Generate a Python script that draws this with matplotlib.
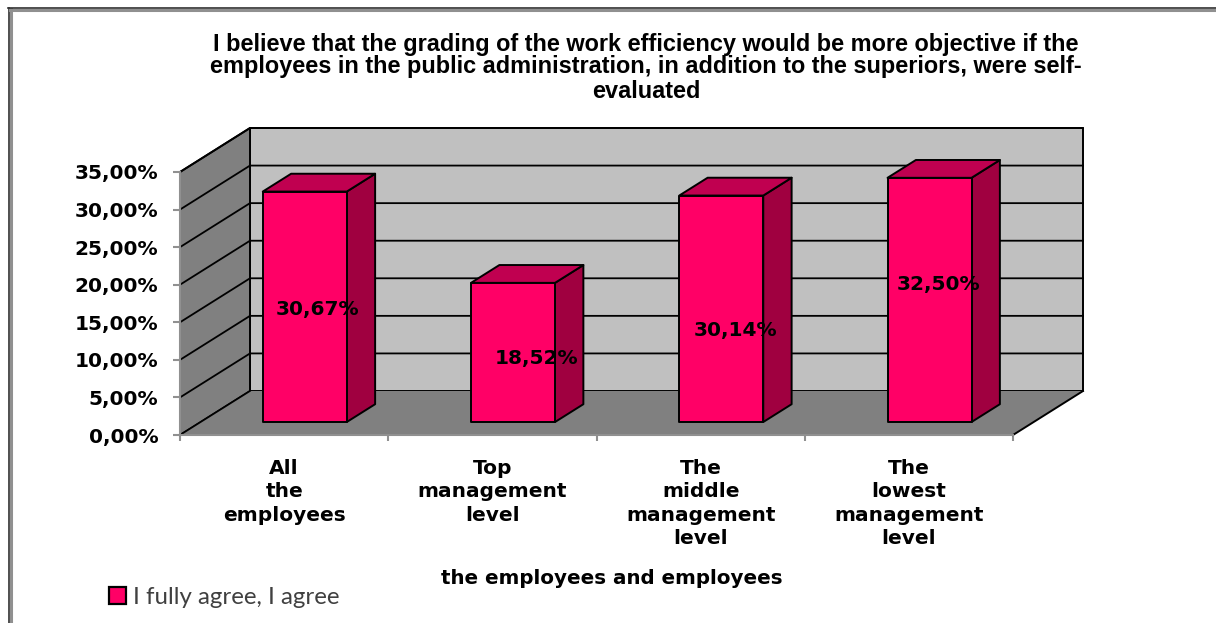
import matplotlib
matplotlib.use("Agg")
import matplotlib.pyplot as plt
from matplotlib.lines import Line2D
from matplotlib.patches import Patch

categories = ["All\nthe\nemployees", "Top\nmanagement\nlevel",
              "The\nmiddle\nmanagement\nlevel", "The\nlowest\nmanagement\nlevel"]
values = [30.67, 18.52, 30.14, 32.50]
value_labels = ["30,67%", "18,52%", "30,14%", "32,50%"]
y_ticks = [0, 5, 10, 15, 20, 25, 30, 35]
y_tick_labels = ["0,00%", "5,00%", "10,00%", "15,00%", "20,00%", "25,00%", "30,00%", "35,00%"]
title_lines = ["I believe that the grading of the work efficiency would be more objective if the",
               "employees in the public administration, in addition to the superiors, were self-",
               "evaluated"]
series_name = "I fully agree, I agree"
x_title = "the employees and employees"

W, H = 1216, 623
BOLD = "Liberation Sans"

# fake 3d: depth 0..1 shifts a point up and right on the front plane axes
DEPTH_X = 70 / 208.25
DEPTH_Y = 44 / 7.514
BAR_W = 84 / 208.25
BAR_D0, BAR_D1 = 0.295, 0.70
# the labels in the original were moved by hand
label_dx = [0.06, 0.115, 0.07, 0.045]
label_dy = [-0.4, -0.8, -2.9, 2.0]


def pt(x, y, d=0.0):
    return x + d * DEPTH_X, y + d * DEPTH_Y


def poly(ax, pts, color, z, lw=1.4):
    xs = [p[0] for p in pts]
    ys = [p[1] for p in pts]
    ax.fill(xs, ys, facecolor=color, edgecolor="black", linewidth=lw, zorder=z,
            clip_on=False, joinstyle="round")


fig = plt.figure(figsize=(W / 100, H / 100), dpi=100)
ax = fig.add_axes([180 / W, 1 - 435 / H, 833 / W, 263 / H])
ax.set_xlim(0, 4)
ax.set_ylim(0, 35)
ax.patch.set_alpha(0)

# walls and floor
poly(ax, [pt(0, 0, 1), pt(4, 0, 1), pt(4, 35, 1), pt(0, 35, 1)], "#c0c0c0", 1)
poly(ax, [pt(0, 0), pt(0, 0, 1), pt(0, 35, 1), pt(0, 35)], "#808080", 1)
ax.fill(*zip(pt(0, 0), pt(4, 0), pt(4, 0, 1), pt(0, 0, 1)), facecolor="#808080",
        edgecolor="none", zorder=2, clip_on=False)
ax.plot(*zip(pt(4, 0), pt(4, 0, 1)), color="black", lw=1.4, zorder=2, clip_on=False)
ax.plot(*zip(pt(0, 0), pt(0, 0, 1)), color="black", lw=1.2, zorder=2, clip_on=False)

for t in y_ticks[1:]:
    ax.plot(*zip(pt(0, t), pt(0, t, 1), pt(4, t, 1)), color="black", lw=1.3, zorder=1.5,
            clip_on=False)

# bars
for i, v in enumerate(values):
    x0 = i + 0.5 - BAR_W / 2
    x1 = i + 0.5 + BAR_W / 2
    poly(ax, [pt(x1, 0, BAR_D0), pt(x1, 0, BAR_D1), pt(x1, v, BAR_D1), pt(x1, v, BAR_D0)], "#a00040", 3)
    poly(ax, [pt(x0, v, BAR_D0), pt(x1, v, BAR_D0), pt(x1, v, BAR_D1), pt(x0, v, BAR_D1)], "#c00050", 3)
    poly(ax, [pt(x0, 0, BAR_D0), pt(x1, 0, BAR_D0), pt(x1, v, BAR_D0), pt(x0, v, BAR_D0)], "#ff0066", 4)
    lx, ly = pt(i + 0.5 + label_dx[i], v / 2 + label_dy[i], BAR_D0)
    ax.text(lx, ly, value_labels[i], ha="center", va="center", fontsize=14.5,
            fontweight="bold", family="DejaVu Sans", color="black", zorder=5)

# axes
for s in ["top", "right"]:
    ax.spines[s].set_visible(False)
for s in ["left", "bottom"]:
    ax.spines[s].set_color("#909090")
    ax.spines[s].set_linewidth(1.5)
    ax.spines[s].set_zorder(2.5)
ax.set_yticks(y_ticks)
ax.set_yticklabels(y_tick_labels, fontsize=14.5, fontweight="bold", family="DejaVu Sans")
ax.tick_params(axis="y", length=5, width=1.5, color="#909090", pad=10.5)
ax.set_xticks([0, 1, 2, 3, 4])
ax.set_xticklabels([])
ax.tick_params(axis="x", which="major", length=4.5, width=1.5, color="#909090")
ax.set_xticks([0.5, 1.5, 2.5, 3.5], minor=True)
ax.set_xticklabels(categories, minor=True, fontsize=14.5, fontweight="bold",
                   family="DejaVu Sans", linespacing=1.3)
ax.tick_params(axis="x", which="minor", length=0, pad=17)

# title, the last line sits a bit lower in the original
for line, y in zip(title_lines, [45, 66, 91]):
    fig.text(646 / W, 1 - y / H, line, ha="center", va="center", fontsize=16.9,
             fontweight="bold", family=BOLD, color="black")

fig.text(612 / W, 1 - 578 / H, x_title, ha="center", va="center", fontsize=14.3,
         fontweight="bold", family="DejaVu Sans")

leg = fig.legend(handles=[Patch(facecolor="#ff0066", edgecolor="black", linewidth=1.6, label=series_name)],
                 loc="center left", bbox_to_anchor=(109 / W, 1 - 597 / H), frameon=False,
                 prop={"family": "Lato", "size": 17.3}, handlelength=0.7, handleheight=0.7,
                 handletextpad=0.3, borderpad=0, borderaxespad=0)
leg.get_texts()[0].set_color("#404040")

# frame of the pasted picture, only left and top show
for xs, ys, c, lw in [([8.5, 8.5], [8, H], "#303030", 1.2), ([10.5, 10.5], [9, H], "#909090", 2.2),
                      ([8, W], [8, 8], "#303030", 1.2), ([10, W], [10, 10], "#909090", 2.2)]:
    fig.add_artist(Line2D([x / W for x in xs], [1 - y / H for y in ys], color=c, lw=lw))

fig.savefig("out.png", dpi=100)
